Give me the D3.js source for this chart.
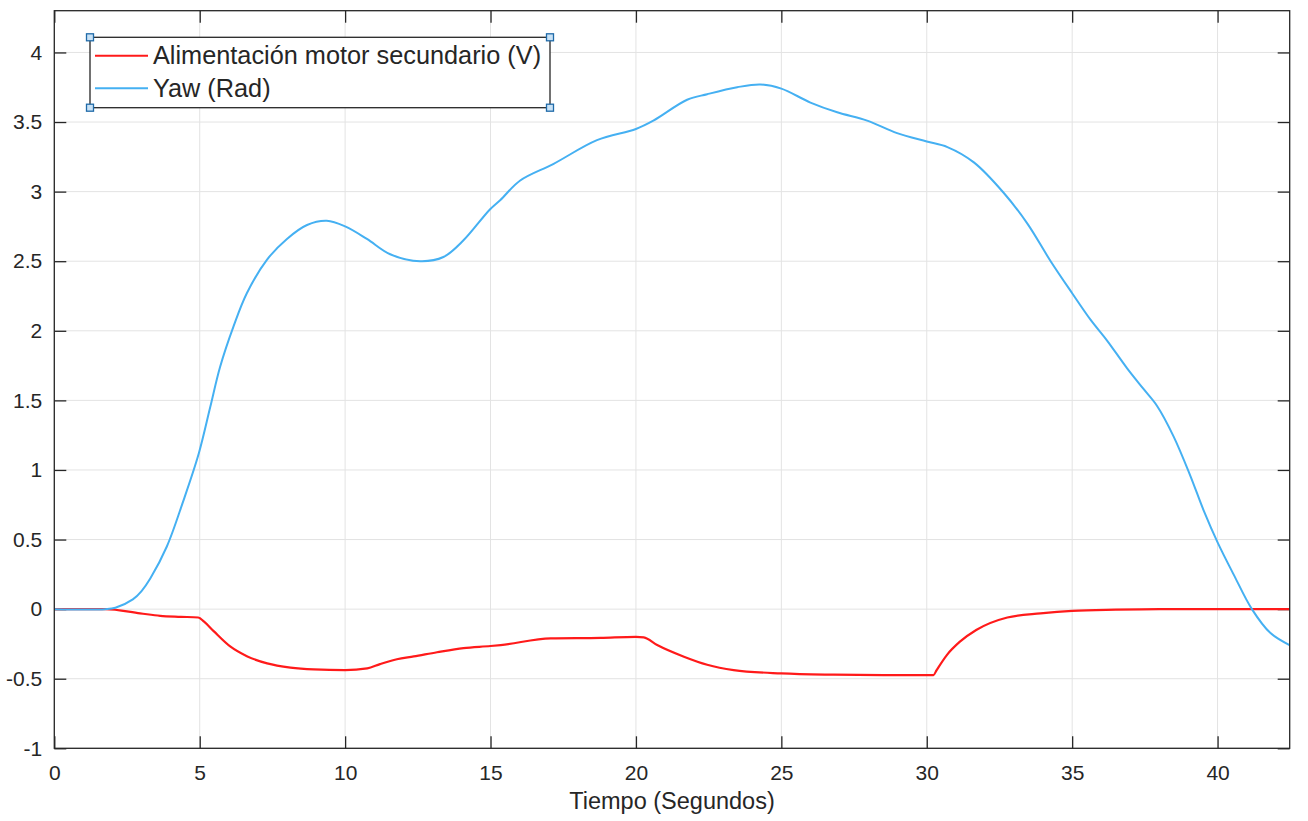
<!DOCTYPE html>
<html>
<head>
<meta charset="utf-8">
<script src="https://cdn.jsdelivr.net/npm/d3@7/dist/d3.min.js"></script>
<style>
  body { margin: 0; background: #fff; }
  text { font-family: "Liberation Sans", Arial, Helvetica, sans-serif; fill: #262626; }
</style>
</head>
<body>
<div id="chart"></div>
<script>
// series: Yaw (Rad)
var yawTime = [0, 1.75, 2.1, 2.7, 3.0, 3.3, 3.87, 4.44, 4.97, 5.36, 5.70, 6.16, 6.62, 7.31, 8.0, 8.69, 9.37, 10.0, 10.75, 11.55, 12.58, 13.38, 14.07, 14.97, 15.34, 16.02, 17.17, 18.66, 20.0, 20.6, 21.76, 22.45, 23.48, 24.28, 25.0, 26.0, 26.92, 27.95, 28.98, 30.0, 30.71, 31.62, 32.65, 33.46, 34.26, 35.0, 35.63, 36.2, 36.89, 37.46, 37.92, 38.49, 39.06, 39.52, 40.0, 40.55, 41.18, 41.81, 42.49];
var yawValue = [0, 0, 0.01, 0.07, 0.13, 0.22, 0.45, 0.78, 1.12, 1.45, 1.74, 2.03, 2.27, 2.51, 2.66, 2.76, 2.79, 2.75, 2.66, 2.55, 2.50, 2.53, 2.65, 2.87, 2.94, 3.08, 3.20, 3.37, 3.45, 3.51, 3.66, 3.70, 3.75, 3.77, 3.74, 3.64, 3.57, 3.51, 3.42, 3.36, 3.32, 3.21, 2.99, 2.77, 2.50, 2.27, 2.08, 1.93, 1.73, 1.58, 1.46, 1.24, 0.96, 0.71, 0.48, 0.25, 0.0, -0.17, -0.26];

// series: Alimentación motor secundario (V)
var motorTime = [0, 1.75, 2.95, 3.64, 4.35, 4.95, 5.15, 5.49, 6.06, 6.64, 7.32, 8.12, 8.92, 10.0, 10.76, 11.2, 11.78, 12.36, 13.16, 14.07, 15.0, 15.35, 17.07, 18.79, 20.0, 20.27, 20.73, 21.65, 22.45, 23.36, 25.0, 26.8, 28.51, 30.23, 30.34, 30.69, 31.14, 31.7, 32.77, 33.91, 35.0, 36.5, 38.0, 42.49];
var motorValue = [0, 0, -0.03, -0.048, -0.055, -0.06, -0.09, -0.16, -0.27, -0.34, -0.39, -0.42, -0.433, -0.438, -0.426, -0.395, -0.36, -0.34, -0.31, -0.28, -0.265, -0.258, -0.21, -0.206, -0.199, -0.203, -0.258, -0.342, -0.40, -0.438, -0.462, -0.471, -0.474, -0.474, -0.438, -0.33, -0.234, -0.15, -0.06, -0.03, -0.012, -0.004, 0, 0];

var xTicks = [0, 5, 10, 15, 20, 25, 30, 35, 40];
var yTicks = [-1, -0.5, 0, 0.5, 1, 1.5, 2, 2.5, 3, 3.5, 4];
var legendLabels = ['Alimentación motor secundario (V)', 'Yaw (Rad)'];
var seriesColors = ['#ff1a1a', '#45b0f2'];

var W = 1308, H = 821;
var box = { left: 54.3, right: 1289.7, top: 10.7, bottom: 748.3 };
var tickLen = 12;

var svg = d3.select('#chart').append('svg').attr('width', W).attr('height', H);

var x = d3.scaleLinear().domain([0, 42.48]).range([box.left, box.right]);
var y = d3.scaleLinear().domain([-1, 4.3]).range([box.bottom, box.top]);

// grid
var grid = svg.append('g').attr('class', 'grid');
grid.selectAll('.gx').data(xTicks).enter().append('line')
    .attr('x1', function(d){ return x(d); }).attr('x2', function(d){ return x(d); })
    .attr('y1', box.top).attr('y2', box.bottom)
    .attr('stroke', '#e3e3e3').attr('stroke-width', 1);
grid.selectAll('.gy').data(yTicks).enter().append('line')
    .attr('y1', function(d){ return y(d); }).attr('y2', function(d){ return y(d); })
    .attr('x1', box.left).attr('x2', box.right)
    .attr('stroke', '#e3e3e3').attr('stroke-width', 1);

// axes (inward ticks on all four sides)
var fmt = function(d){ return String(d); };
var axB = d3.axisBottom(x).tickValues(xTicks).tickSize(-tickLen).tickPadding(17).tickFormat(fmt);
var axT = d3.axisTop(x).tickValues(xTicks).tickSize(-tickLen).tickFormat('');
var axL = d3.axisLeft(y).tickValues(yTicks).tickSize(-tickLen).tickPadding(12).tickFormat(fmt);
var axR = d3.axisRight(y).tickValues(yTicks).tickSize(-tickLen).tickFormat('');

function styleAxis(g) {
    g.select('.domain').remove();
    g.selectAll('.tick line').attr('stroke', '#262626').attr('stroke-width', 1.3);
    g.selectAll('.tick text').attr('font-size', 21).attr('fill', '#262626')
        .style('font-family', '"Liberation Sans", Arial, sans-serif');
}
svg.append('g').attr('transform', 'translate(0,' + box.bottom + ')').call(axB).call(styleAxis);
svg.append('g').attr('transform', 'translate(0,' + box.top + ')').call(axT).call(styleAxis);
svg.append('g').attr('transform', 'translate(' + box.left + ',0)').call(axL).call(styleAxis);
svg.append('g').attr('transform', 'translate(' + box.right + ',0)').call(axR).call(styleAxis);

// clip
svg.append('clipPath').attr('id', 'clip').append('rect')
    .attr('x', box.left).attr('y', box.top)
    .attr('width', box.right - box.left).attr('height', box.bottom - box.top);

var lineSharp = d3.line()
    .x(function(d){ return x(d[0]); })
    .y(function(d){ return y(d[1]); })
    .curve(d3.curveMonotoneX);
var lineSmooth = d3.line()
    .x(function(d){ return x(d[0]); })
    .y(function(d){ return y(d[1]); })
    .curve(d3.curveCatmullRom.alpha(0.5));

var motorData = d3.zip(motorTime, motorValue);
var yawData = d3.zip(yawTime, yawValue);

var plot = svg.append('g').attr('clip-path', 'url(#clip)');
plot.append('path').datum(motorData).attr('d', lineSharp)
    .attr('fill', 'none').attr('stroke', seriesColors[0]).attr('stroke-width', 2.2);
plot.append('path').datum(yawData).attr('d', lineSmooth)
    .attr('fill', 'none').attr('stroke', seriesColors[1]).attr('stroke-width', 2);

// frame
svg.append('rect')
    .attr('x', box.left).attr('y', box.top)
    .attr('width', box.right - box.left).attr('height', box.bottom - box.top)
    .attr('fill', 'none').attr('stroke', '#262626').attr('stroke-width', 1.3);

// x label
svg.append('text')
    .attr('x', (box.left + box.right) / 2).attr('y', 809)
    .attr('text-anchor', 'middle').attr('font-size', 23.5)
    .text('Tiempo (Segundos)');

// legend
var lg = { x: 90, y: 37.3, w: 460, h: 70.4 };
var legend = svg.append('g');
legend.append('rect')
    .attr('x', lg.x).attr('y', lg.y).attr('width', lg.w).attr('height', lg.h)
    .attr('fill', '#fff').attr('stroke', '#262626').attr('stroke-width', 1.3);
var rows = legend.selectAll('.row').data(legendLabels).enter().append('g')
    .attr('transform', function(d, i){ return 'translate(0,' + (i === 0 ? 55.7 : 88.3) + ')'; });
rows.append('line')
    .attr('x1', 95).attr('x2', 148).attr('y1', 0).attr('y2', 0)
    .attr('stroke', function(d, i){ return seriesColors[i]; }).attr('stroke-width', 2);
rows.append('text')
    .attr('x', 153).attr('y', 8.5).attr('font-size', 25.3)
    .text(function(d){ return d; });

// selection handles
var corners = [[lg.x, lg.y], [lg.x + lg.w, lg.y], [lg.x, lg.y + lg.h], [lg.x + lg.w, lg.y + lg.h]];
legend.selectAll('.handle').data(corners).enter().append('rect')
    .attr('x', function(d){ return d[0] - 3.5; }).attr('y', function(d){ return d[1] - 3.5; })
    .attr('width', 7).attr('height', 7)
    .attr('fill', '#c9e2f6').attr('stroke', '#1f6aa8').attr('stroke-width', 1.3);
</script>
</body>
</html>
